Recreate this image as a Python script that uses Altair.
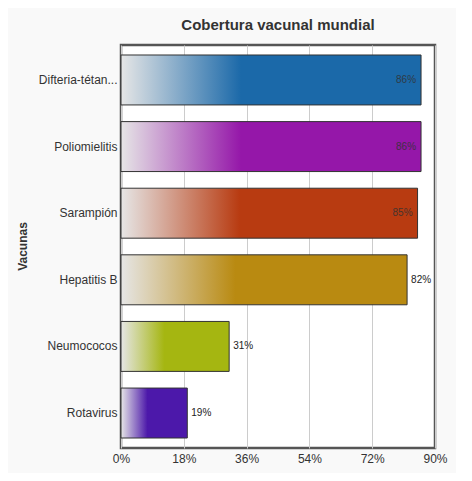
import altair as alt
import pandas as pd

categories = ["Difteria-tétan...", "Poliomielitis", "Sarampión", "Hepatitis B", "Neumococos", "Rotavirus"]
values = [86, 86, 85, 82, 31, 19]
colors = ["#1b69a9", "#9517a9", "#b83b11", "#b98a11", "#a5b611", "#4c18aa"]
labels = ["86%", "86%", "85%", "82%", "31%", "19%"]
x_ticks = [0, 18, 36, 54, 72, 90]

df = pd.DataFrame({"Vacuna": categories, "Cobertura": values, "Etiqueta": labels})

FONT = "Liberation Sans"

y_enc = alt.Y(
    "Vacuna:N",
    sort=categories,
    scale=alt.Scale(paddingInner=0.25, paddingOuter=0.15),
    axis=alt.Axis(
        title="Vacunas", titleAngle=-90, titleX=-99, titleY=201, titleAlign="center",
        titleBaseline="middle", titleFont=FONT, titleFontSize=12, titleFontWeight="bold",
        titleColor="#333333", labelFont=FONT, labelFontSize=12, labelColor="#333333",
        labelPadding=4, ticks=False, domain=False, grid=False, labelLimit=200,
    ),
)
x_enc = alt.X(
    "Cobertura:Q",
    scale=alt.Scale(domain=[0, 90], nice=False),
    axis=alt.Axis(
        values=x_ticks, labelExpr="datum.value + '%'", title=None, labelFont=FONT,
        labelFontSize=12, labelColor="#333333", labelPadding=5, ticks=False,
        labelFlush=False, labelOverlap=False,
        domain=False, grid=True, gridColor="#cccccc", gridWidth=1,
    ),
)

base = alt.Chart(df)
layers = []
for cat, col in zip(categories, colors):
    grad = alt.Gradient(
        gradient="linear", x1=0, x2=1, y1=0, y2=0,
        stops=[
            alt.GradientStop(offset=0, color="#e6e6e6"),
            alt.GradientStop(offset=0.4, color=col),
            alt.GradientStop(offset=1, color=col),
        ],
    )
    layers.append(
        base.transform_filter(alt.datum.Vacuna == cat)
        .mark_bar(fill=grad, stroke="#333333", strokeWidth=1)
        .encode(x=x_enc, y=y_enc)
    )

inside = base.transform_filter(alt.datum.Cobertura > 83).mark_text(
    align="right", baseline="middle", dx=-5, font=FONT, fontSize=10, color="#333333", opacity=0.85
).encode(x="Cobertura:Q", y=alt.Y("Vacuna:N", sort=categories), text="Etiqueta:N")
outside = base.transform_filter(alt.datum.Cobertura <= 83).mark_text(
    align="left", baseline="middle", dx=4, font=FONT, fontSize=10, color="#222222"
).encode(x="Cobertura:Q", y=alt.Y("Vacuna:N", sort=categories), text="Etiqueta:N")

chart = alt.layer(*layers, inside, outside).properties(
    width=314, height=403,
    title=alt.TitleParams(
        "Cobertura vacunal mundial", font=FONT, fontSize=15, fontWeight="bold",
        color="#333333", anchor="middle", offset=12,
    ),
    autosize=alt.AutoSizeParams(type="none"),
    padding={"left": 113, "top": 37, "right": 21, "bottom": 25},
    background="#f9f9f9",
).configure_view(
    stroke="#555555", strokeWidth=2.5, fill="white"
)

chart.save("out.html", embed_options={"renderer": "svg", "actions": False})
